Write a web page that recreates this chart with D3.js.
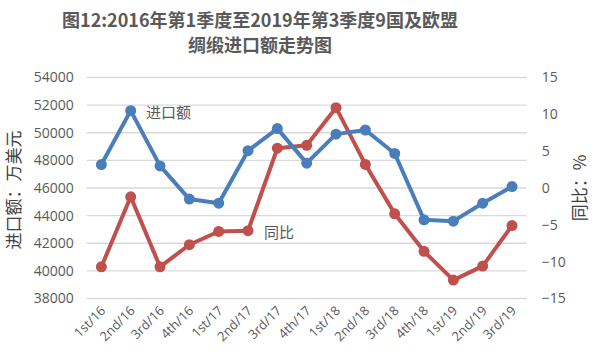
<!DOCTYPE html>
<html><head><meta charset="utf-8">
<script src="https://cdn.jsdelivr.net/npm/d3@7"></script>
<style>body{margin:0;background:#fff}svg{display:block}</style>
</head><body>
<svg id="c" width="600" height="359"></svg>
<script>
const categories = ["1st/16","2nd/16","3rd/16","4th/16","1st/17","2nd/17","3rd/17","4th/17","1st/18","2nd/18","3rd/18","4th/18","1st/19","2nd/19","3rd/19"];
const importValues = [47700,51600,47600,45200,44900,48700,50300,47800,49900,50200,48500,43700,43600,44900,46100];
const yoyValues = [-10.7,-1.2,-10.7,-7.7,-5.9,-5.8,5.4,5.8,10.9,3.2,-3.5,-8.6,-12.5,-10.6,-5.1];
const leftTicks = [38000,40000,42000,44000,46000,48000,50000,52000,54000];
const rightTicks = [-15,-10,-5,0,5,10,15];
const titleLines = ["图12:2016年第1季度至2019年第3季度9国及欧盟","绸缎进口额走势图"];

const svg = d3.select("#c");
const m = {l:86.7, r:526.7, t:77.5, b:298.5};
const x = d3.scaleBand().domain(categories).range([m.l, m.r]);
const yL = d3.scaleLinear().domain([38000,54000]).range([m.b, m.t]);
const yR = d3.scaleLinear().domain([-15,15]).range([m.b, m.t]);
const cx = d => x(d) + x.bandwidth()/2;
const font = "'Open Sans','Noto Sans CJK SC',sans-serif";
const cjk = "'Noto Sans CJK SC',sans-serif";
const txt = "#595959";

// title
svg.append("g").selectAll("text").data(titleLines).join("text")
  .attr("x", 260).attr("y", (d,i)=>27 + i*25)
  .attr("text-anchor","middle").attr("font-family",cjk).attr("font-weight","bold")
  .attr("font-size",18).attr("fill",txt).text(d=>d);

// gridlines
svg.append("g").selectAll("line").data(leftTicks).join("line")
  .attr("x1",m.l).attr("x2",m.r).attr("y1",d=>yL(d)).attr("y2",d=>yL(d))
  .attr("stroke","#d9d9d9").attr("stroke-width",1.3);

// left axis
const gL = svg.append("g").attr("transform",`translate(${m.l-13},0)`)
  .call(d3.axisLeft(yL).tickValues(leftTicks).tickSize(0).tickPadding(0).tickFormat(d3.format("d")));
gL.select(".domain").remove();
gL.selectAll("text").attr("font-family",font).attr("font-size",14).attr("fill",txt);

// right axis
const gR = svg.append("g").attr("transform",`translate(${m.r+15},0)`)
  .call(d3.axisRight(yR).tickValues(rightTicks).tickSize(0).tickPadding(0));
gR.select(".domain").remove();
gR.selectAll("text").attr("font-family",font).attr("font-size",14).attr("fill",txt);

// x axis
const gX = svg.append("g").attr("transform",`translate(0,${m.b})`)
  .call(d3.axisBottom(x).tickSize(0).tickPadding(0));
gX.select(".domain").remove();
gX.selectAll("text").attr("font-family",font).attr("font-size",13).attr("fill",txt)
  .attr("text-anchor","end").attr("dy",0)
  .attr("transform","translate(5,13) rotate(-45)");

// axis titles
svg.append("text").attr("transform","translate(20,190) rotate(-90)")
  .attr("text-anchor","middle").attr("font-family",cjk).attr("font-size",17).attr("fill","#404040")
  .text("进口额：万美元");
svg.append("text").attr("transform","translate(586,188) rotate(-90)")
  .attr("text-anchor","middle").attr("font-family",cjk).attr("font-size",17).attr("fill","#404040")
  .text("同比：%");

// series
function series(vals, scale, color){
  const line = d3.line().x((d,i)=>cx(categories[i])).y(d=>scale(d));
  svg.append("path").datum(vals).attr("d",line).attr("fill","none")
    .attr("stroke",color).attr("stroke-width",4).attr("stroke-linejoin","round");
  svg.append("g").selectAll("circle").data(vals).join("circle")
    .attr("cx",(d,i)=>cx(categories[i])).attr("cy",d=>scale(d)).attr("r",5.5).attr("fill",color);
}
series(yoyValues, yR, "#c0504d");
series(importValues, yL, "#4a7ebb");

// labels
svg.append("text").attr("x",146).attr("y",118).attr("font-family",cjk).attr("font-size",15).attr("fill",txt).text("进口额");
svg.append("text").attr("x",264).attr("y",238).attr("font-family",cjk).attr("font-size",15).attr("fill",txt).text("同比");
</script>
</body></html>
